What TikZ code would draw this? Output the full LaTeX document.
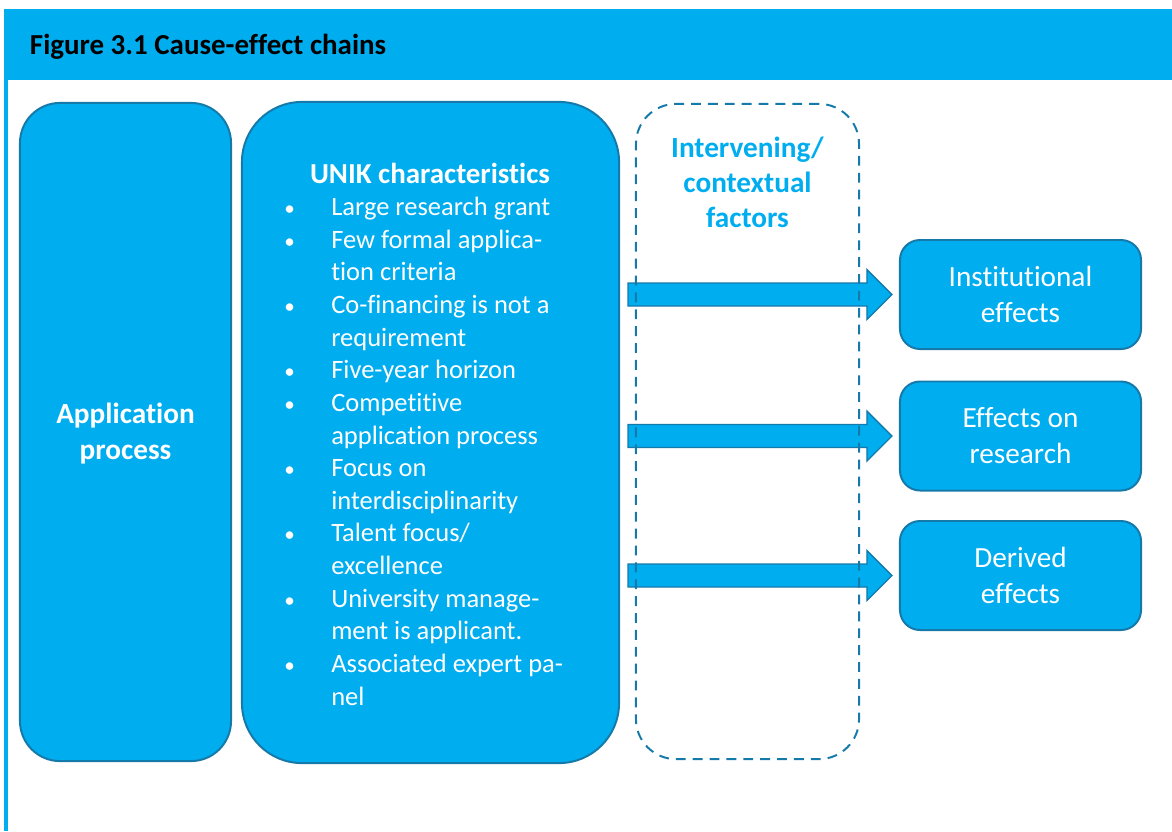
\documentclass[tikz,border=0pt]{standalone}
\usepackage{fontspec}
\setmainfont[Ligatures={NoCommon,NoContextual},Contextuals=NoAlternate]{Carlito}
\usetikzlibrary{calc}
\definecolor{boxfill}{RGB}{0,173,239}
\definecolor{boxline}{RGB}{21,121,170}
\newcommand\listbul{\makebox[1.175cm][l]{\fontsize{15}{15}\selectfont•}}
\newcommand\listind{\hspace*{1.175cm}}
\tikzset{
  bluebox/.style={draw=boxline,line width=1.4pt,fill=boxfill,text=white},
  effectbox/.style={bluebox,rounded corners=0.5cm,minimum width=6.025cm,minimum height=2.725cm,
    align=center,font=\fontsize{20.8}{25.6}\selectfont},
  flowarrow/.style={draw=boxline,line width=1pt,fill=boxfill},
}

\begin{document}
\begin{tikzpicture}[x=0.025cm,y=-0.025cm]
\useasboundingbox (0,0) rectangle (1172,831);
% frame and caption
\fill[boxfill] (4,9) rectangle (1172,80);
\fill[boxfill] (4,80) rectangle (8,831);
\node[anchor=west,font=\bfseries\fontsize{20.6}{24}\selectfont] (caption) at (25,47) {Figure 3.1 Cause-effect chains};

% left columns
\node[bluebox,rounded corners=1cm,minimum width=5.275cm,minimum height=16.45cm] (apply) at (125.5,432) {};
\node[align=center,text=white,font=\bfseries\fontsize{20.8}{25.6}\selectfont] (applylabel) at (125.5,434) {Application\\process};

\node[bluebox,rounded corners=1.5cm,minimum width=9.425cm,minimum height=16.525cm] (unik) at (430.5,432.5) {};
\node[text=white,font=\bfseries\fontsize{20.6}{25}\selectfont] (unikhead) at (430,173) {UNIK characteristics};
\node[anchor=north west,inner sep=0pt,align=left,text=white,font=\fontsize{18.85}{23.2}\selectfont] (uniklist) at (284,197) {%
\listbul Large research grant\\
\listbul Few formal applica-\\
\listind tion criteria\\
\listbul Co-financing is not a\\
\listind requirement\\
\listbul Five-year horizon\\
\listbul Competitive\\
\listind application process\\
\listbul Focus on\\
\listind interdisciplinarity\\
\listbul Talent focus/\\
\listind excellence\\
\listbul University manage-\\
\listind ment is applicant.\\
\listbul Associated expert pa-\\
\listind nel};

% effects
\node[effectbox] (inst) at (1020.5,294.5) {Institutional\\effects};
\node[effectbox] (res) at (1020.5,436) {Effects on\\research};
\node[effectbox] (der) at (1020.5,575.5) {Derived\\effects};

% block arrows
\foreach \b in {inst,res,der}{
  \coordinate (s) at ($(unik.east |- \b.west)+(8,0)$);
  \coordinate (e) at ($(\b.west)+(-7,0)$);
  \draw[flowarrow] ($(s)+(0,-11.5)$) -- ($(e)+(-25,-11.5)$) -- ($(e)+(-25,-25)$) -- (e)
    -- ($(e)+(-25,25)$) -- ($(e)+(-25,11.5)$) -- ($(s)+(0,11.5)$) -- cycle;
}

% intervening factors
\node[draw=boxline,line width=1.4pt,dash pattern=on 7pt off 5pt,rounded corners=1cm,
  minimum width=5.575cm,minimum height=16.375cm] (factors) at (747.5,431.5) {};
\node[align=center,text=boxfill,font=\bfseries\fontsize{20.8}{24.9}\selectfont] (factorslabel) at (747.5,182) {Intervening/\\contextual\\factors};
\end{tikzpicture}
\end{document}
